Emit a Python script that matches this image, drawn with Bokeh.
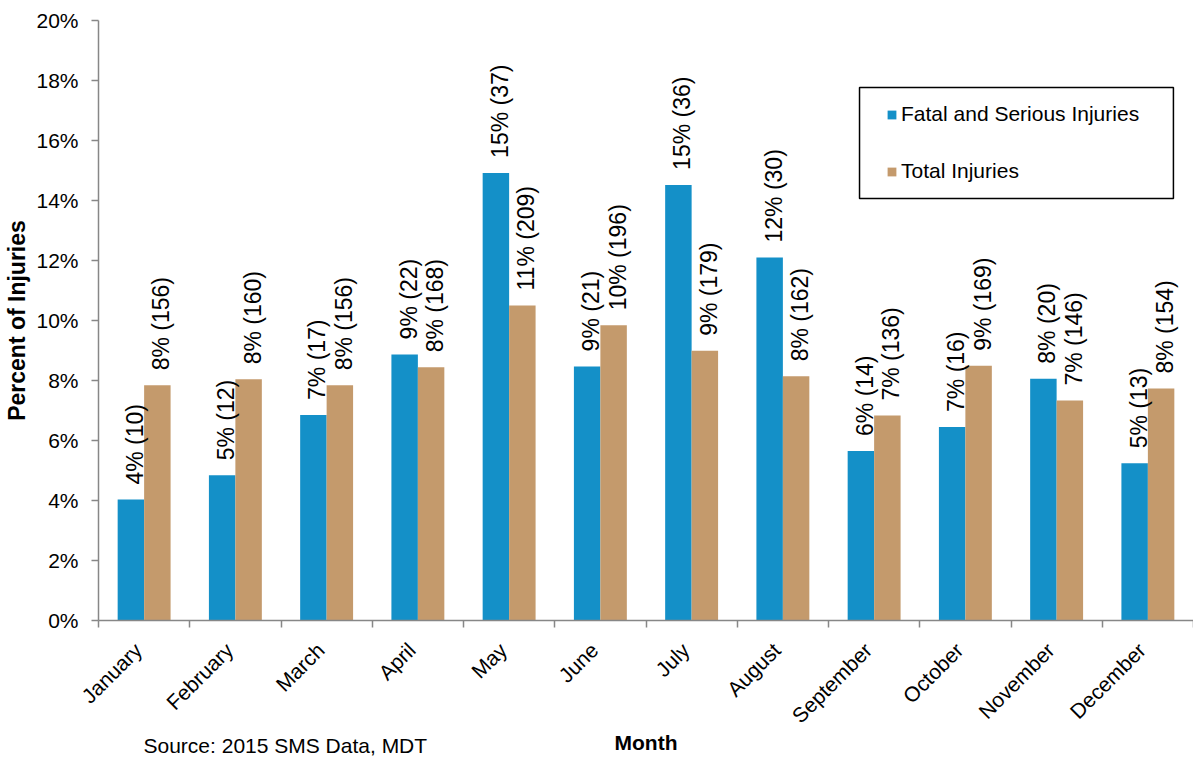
import math
from bokeh.plotting import figure
from bokeh.models import (Range1d, FixedTicker, PrintfTickFormatter, ColumnDataSource,
                          Legend, LegendItem, BoxAnnotation, Title)
from bokeh.core.properties import value
from bokeh.transform import dodge
from bokeh.embed import file_html
from bokeh.resources import INLINE

# ---------------- data ----------------
months = ["January", "February", "March", "April", "May", "June", "July",
          "August", "September", "October", "November", "December"]
fatal_pct = [4.03, 4.84, 6.85, 8.87, 14.92, 8.47, 14.52, 12.10, 5.65, 6.45, 8.06, 5.24]
total_pct = [7.84, 8.04, 7.84, 8.44, 10.50, 9.84, 8.99, 8.14, 6.83, 8.49, 7.33, 7.73]
fatal_labels = ["4% (10)", "5% (12)", "7% (17)", "9% (22)", "15% (37)", "9% (21)",
                "15% (36)", "12% (30)", "6% (14)", "7% (16)", "8% (20)", "5% (13)"]
total_labels = ["8% (156)", "8% (160)", "8% (156)", "8% (168)", "11% (209)", "10% (196)",
                "9% (179)", "8% (162)", "7% (136)", "9% (169)", "7% (146)", "8% (154)"]
y_ticks = [0, 2, 4, 6, 8, 10, 12, 14, 16, 18, 20]
series_names = ["Fatal and Serious Injuries", "Total Injuries"]
source_note = "Source: 2015 SMS Data, MDT"

# ---------------- style ----------------
FONT = "Liberation Sans"
BLUE = "#1490c8"
TAN = "#c49a6c"
AXIS = "#878787"
BW = 0.29
LABEL_SHIFT = -0.066   # month label anchor shift (category units)

pos = [i + 0.5 for i in range(len(months))]
src = ColumnDataSource(dict(pos=pos, month=months, fatal=fatal_pct, total=total_pct,
                            fl=fatal_labels, tl=total_labels))

p = figure(width=1193, height=759,
           x_range=Range1d(0, len(months)), y_range=Range1d(0, y_ticks[-1]),
           output_backend="svg", toolbar_location=None,
           min_border_left=98, min_border_right=0, min_border_top=20, min_border_bottom=139)
p.outline_line_color = None
p.xgrid.grid_line_color = None
p.ygrid.grid_line_color = None
p.background_fill_color = "white"

rf = p.vbar(x=dodge("pos", -BW / 2), top="fatal", width=BW, source=src,
            fill_color=BLUE, line_color=None)
rt = p.vbar(x=dodge("pos", BW / 2), top="total", width=BW, source=src,
            fill_color=TAN, line_color=None)

for col, lab, off in (("fatal", "fl", -BW / 2), ("total", "tl", BW / 2)):
    p.text(x=dodge("pos", off), y=col, text=lab, angle=math.pi / 2,
           text_align="left", text_baseline="middle", y_offset=-15, x_offset=4,
           text_font=value(FONT), text_font_size="23px", text_color="black", source=src)

# x axis
label_ticks = [t + LABEL_SHIFT for t in pos]
xa = p.xaxis[0]
xa.ticker = FixedTicker(ticks=label_ticks, minor_ticks=list(range(len(months) + 1)))
xa.major_label_overrides = {t: m for t, m in zip(label_ticks, months)}
xa.major_label_orientation = math.pi / 4
xa.major_tick_out = 0
xa.major_tick_in = 0
xa.minor_tick_out = 7
xa.minor_tick_in = 0
xa.minor_tick_line_color = AXIS
xa.minor_tick_line_width = 1.5
xa.axis_line_color = AXIS
xa.axis_line_width = 1.5
xa.major_label_standoff = 19
xa.major_label_text_font = FONT
xa.major_label_text_font_size = "21px"
xa.major_label_text_color = "black"
xa.axis_label = "Month"
xa.axis_label_text_font = FONT
xa.axis_label_text_font_size = "21px"
xa.axis_label_text_font_style = "bold"
xa.axis_label_text_color = "black"
xa.axis_label_standoff = -7

# y axis
ya = p.yaxis[0]
ya.ticker = FixedTicker(ticks=y_ticks, minor_ticks=[])
ya.formatter = PrintfTickFormatter(format="%d%%")
ya.major_tick_out = 7
ya.major_tick_in = 0
ya.major_tick_line_color = AXIS
ya.major_tick_line_width = 1.5
ya.axis_line_color = AXIS
ya.axis_line_width = 1.5
ya.major_label_standoff = 13
ya.major_label_text_font = FONT
ya.major_label_text_font_size = "21px"
ya.major_label_text_color = "black"
ya.axis_label = "Percent of Injuries"
ya.axis_label_text_font = FONT
ya.axis_label_text_font_size = "23px"
ya.axis_label_text_font_style = "bold"
ya.axis_label_text_color = "black"
ya.axis_label_standoff = 3

# legend frame
box = BoxAnnotation(left=8.34, right=11.78, bottom=14.07, top=17.77,
                    fill_color="white", fill_alpha=1.0,
                    line_color="black", line_width=1.5, line_alpha=1.0)
p.add_layout(box)

legend = Legend(items=[LegendItem(label=series_names[0], renderers=[rf]),
                       LegendItem(label=series_names[1], renderers=[rt])],
                location=(788, 437), padding=0, margin=0, spacing=33,
                glyph_width=11, glyph_height=11, label_standoff=4, label_height=21,
                border_line_color=None, background_fill_alpha=0,
                label_text_font=FONT, label_text_font_size="21px",
                label_text_color="black")
p.add_layout(legend)

note = Title(text=source_note, align="left", offset=45, standoff=-47,
             vertical_align="top", text_font=FONT, text_font_size="21px",
             text_font_style="normal", text_color="black")
p.add_layout(note, "below")

open("out.html", "w").write(file_html(p, INLINE))
